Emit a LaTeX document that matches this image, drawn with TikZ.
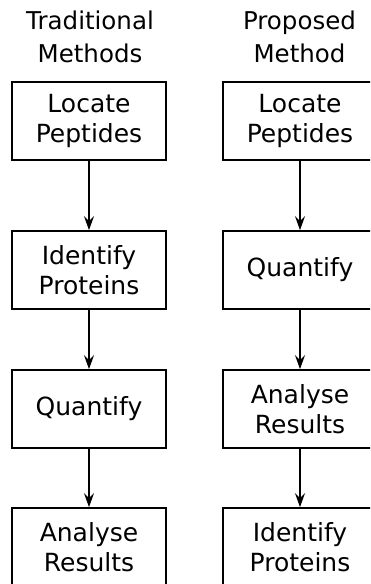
\documentclass[tikz,border=0pt]{standalone}
\usepackage{fontspec}
\setmainfont{DejaVu Sans}
\usetikzlibrary{arrows.meta}
\begin{document}
\begin{tikzpicture}[x=1pt,y=-1pt]
\tikzset{
  stepbox/.style={draw=black, line width=1.7pt, minimum width=154pt, minimum height=78pt, inner sep=0pt, align=center, font=\fontsize{25}{30}\selectfont},
  colhead/.style={inner sep=0pt, align=center, font=\fontsize{24.5}{33}\selectfont},
  conn/.style={draw=black, line width=2pt, -{Stealth[length=14pt,width=10pt,inset=5pt]}}}
\clip (0,0) rectangle (370,584);
\useasboundingbox (0,0) rectangle (370,584);
\node[colhead] (tl) at (90,37) {Traditional\\Methods};
\node[colhead] (tr) at (299.5,37) {Proposed\\Method};
\node[stepbox] (l1) at (89,121) {Locate\\Peptides};
\node[stepbox] (l2) at (89,270) {Identify\\Proteins};
\node[stepbox] (l3) at (89,409) {Quantify};
\node[stepbox] (l4) at (89,547) {Analyse\\Results};
\node[stepbox] (r1) at (300,121) {Locate\\Peptides};
\node[stepbox] (r2) at (300,270) {Quantify};
\node[stepbox] (r3) at (300,409) {Analyse\\Results};
\node[stepbox] (r4) at (300,547) {Identify\\Proteins};
\draw[conn] (l1) -- (l2);
\draw[conn] (l2) -- (l3);
\draw[conn] (l3) -- (l4);
\draw[conn] (r1) -- (r2);
\draw[conn] (r2) -- (r3);
\draw[conn] (r3) -- (r4);
\end{tikzpicture}
\end{document}
